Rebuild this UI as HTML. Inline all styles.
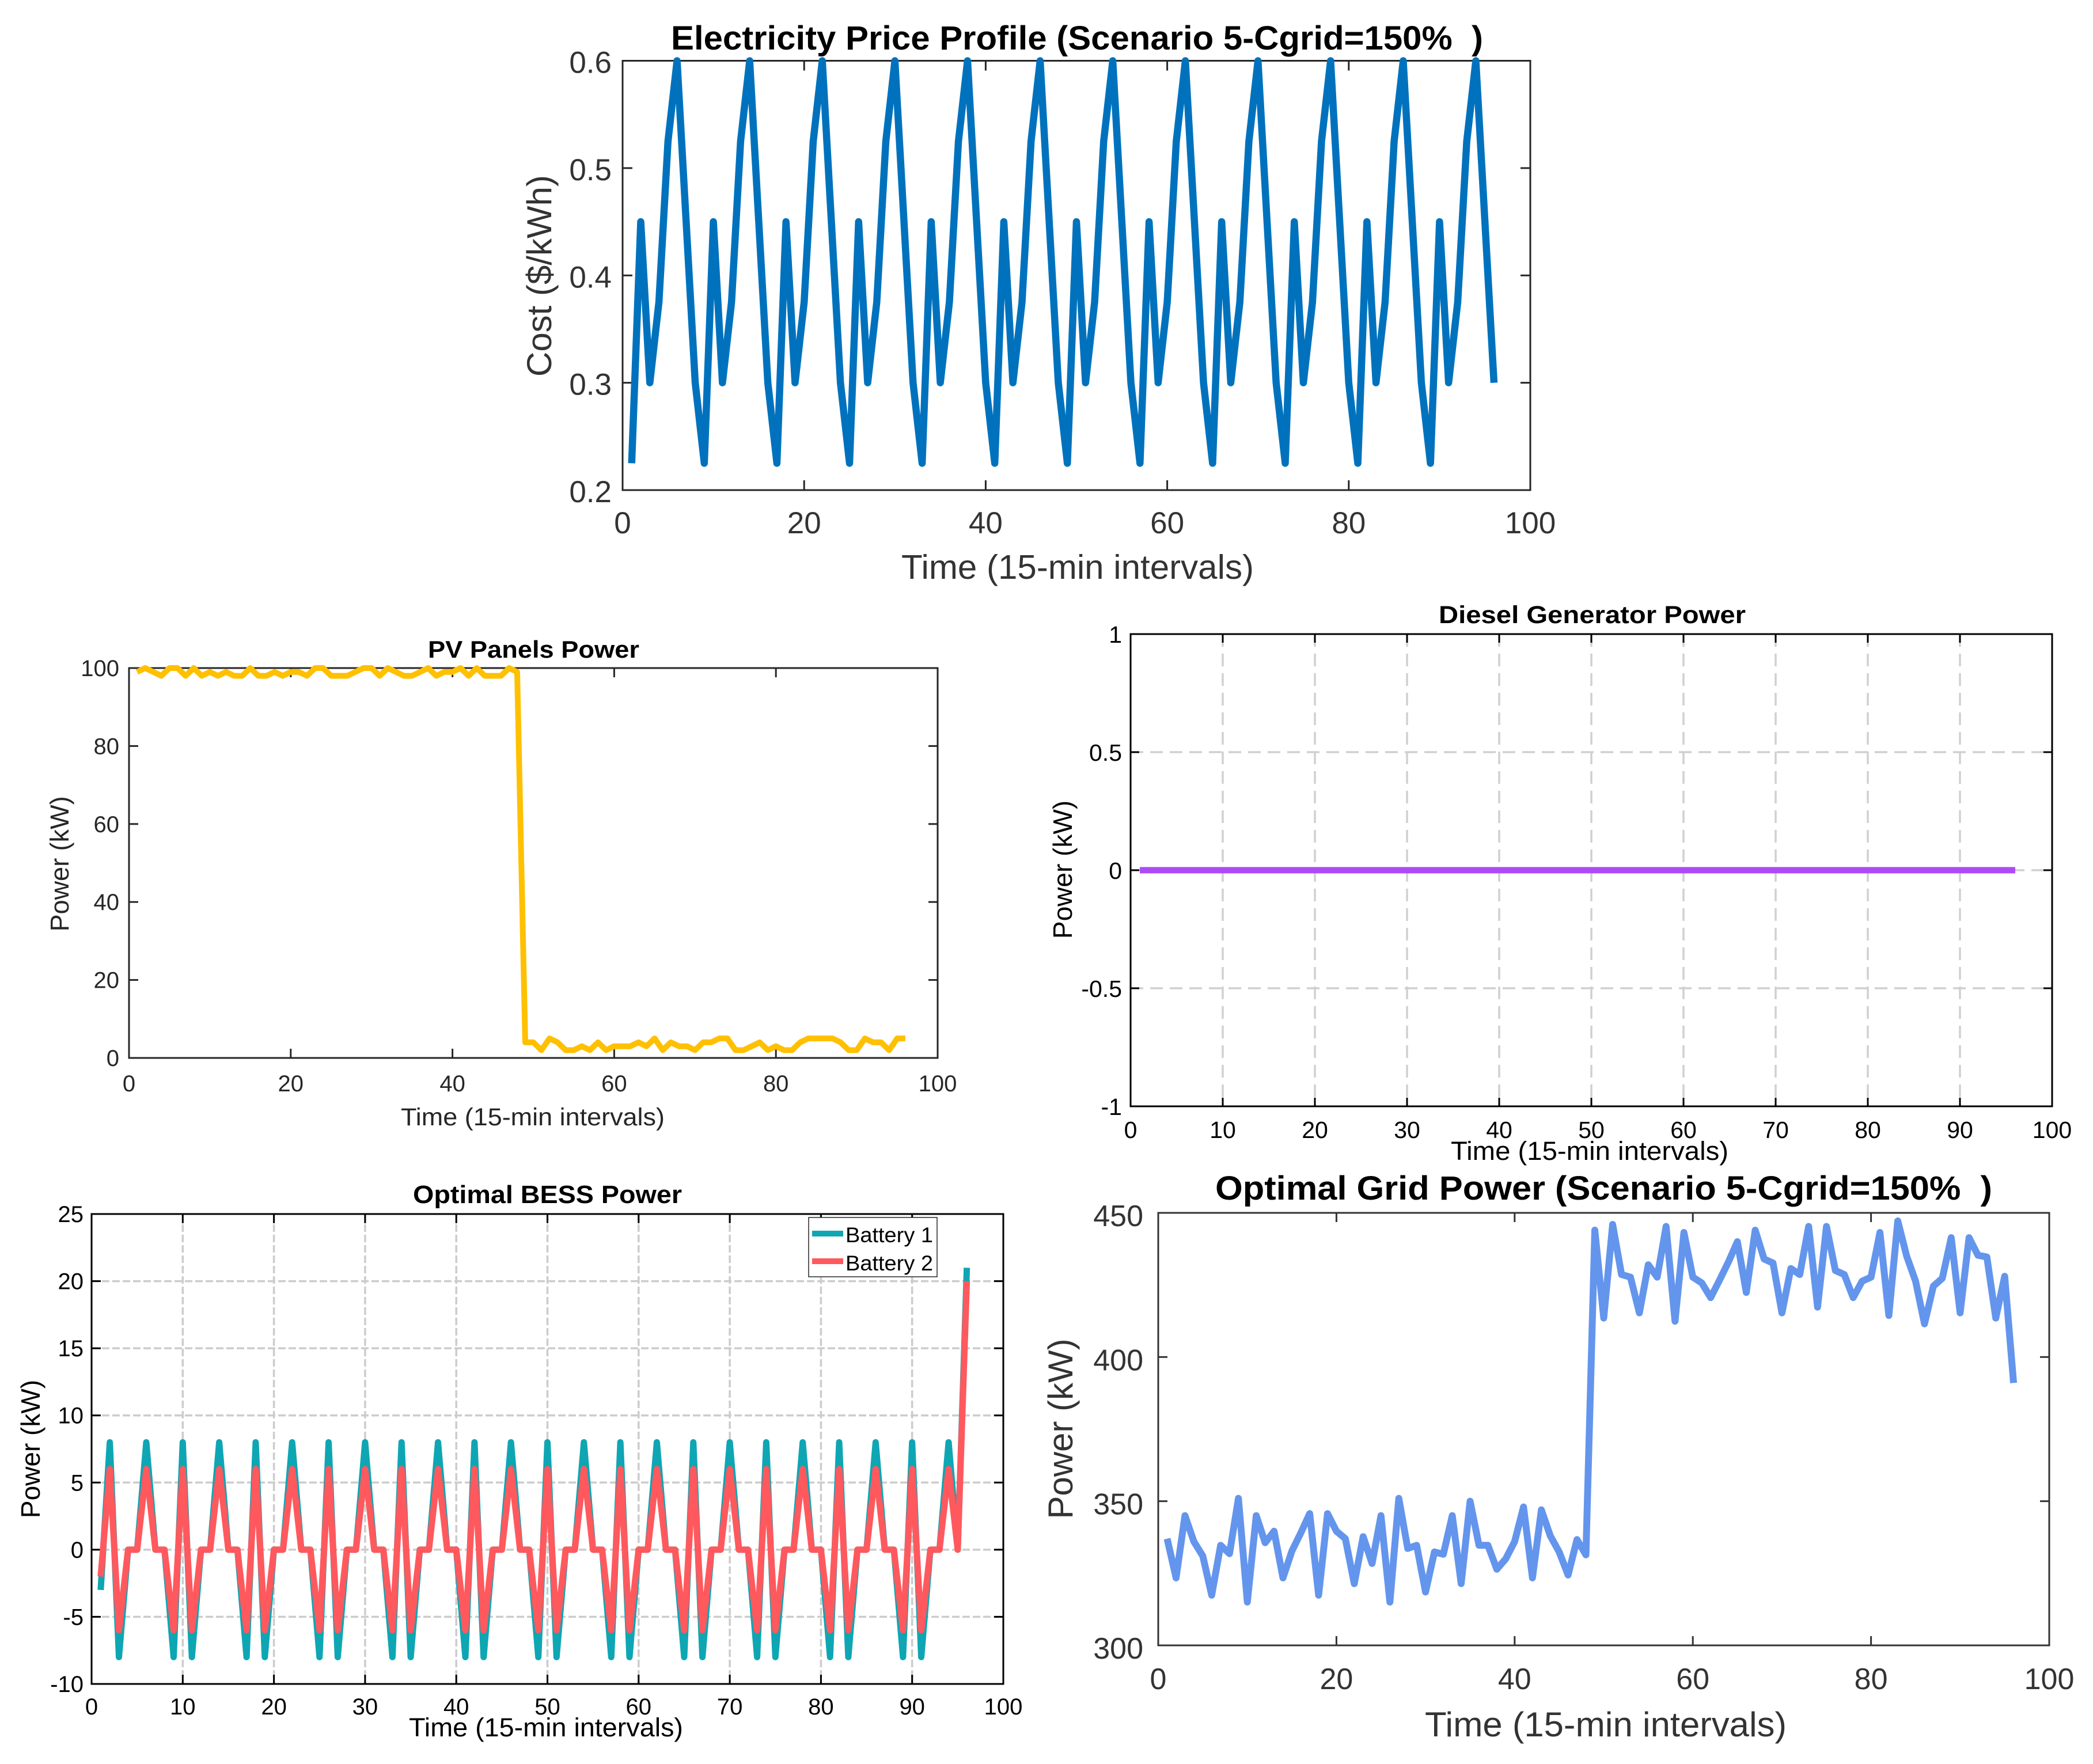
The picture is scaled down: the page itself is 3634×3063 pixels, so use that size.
<!DOCTYPE html>
<html lang="en">
<head>
<meta charset="utf-8">
<title>Scenario 5 power and price profiles</title>
<style>
html,body{margin:0;padding:0;background:#fff;}
svg{display:block;font-family:"Liberation Sans",Arial,sans-serif;}
</style>
</head>
<body>
<svg id="figure" xmlns="http://www.w3.org/2000/svg" width="3634" height="3063" viewBox="0 0 3634 3063">
  <rect x="0" y="0" width="3634" height="3063" fill="#ffffff"/>

  <g id="price-chart">
    <text x="1165" y="86" font-size="58" font-weight="bold" fill="#000" textLength="1410" lengthAdjust="spacingAndGlyphs" xml:space="preserve">Electricity Price Profile (Scenario 5-Cgrid=150%  )</text>
    <text x="1565" y="1005" font-size="59" fill="#333" textLength="612" lengthAdjust="spacingAndGlyphs">Time (15-min intervals)</text>
    <text transform="translate(957,479) rotate(-90)" text-anchor="middle" font-size="60" fill="#333">Cost ($/kWh)</text>
  </g>

  <g id="pv-chart">
    <text x="743" y="1142" font-size="42" font-weight="bold" fill="#000" textLength="367" lengthAdjust="spacingAndGlyphs">PV Panels Power</text>
    <text x="696" y="1954" font-size="43" fill="#262626" textLength="458" lengthAdjust="spacingAndGlyphs">Time (15-min intervals)</text>
    <text transform="translate(119,1500) rotate(-90)" text-anchor="middle" font-size="45" fill="#262626">Power (kW)</text>
  </g>

  <g id="diesel-chart">
    <text x="2498" y="1082" font-size="43" font-weight="bold" fill="#000" textLength="533" lengthAdjust="spacingAndGlyphs">Diesel Generator Power</text>
    <text x="2519" y="2014" font-size="45" fill="#000" textLength="482" lengthAdjust="spacingAndGlyphs">Time (15-min intervals)</text>
    <text transform="translate(1861,1510) rotate(-90)" text-anchor="middle" font-size="46" fill="#000">Power (kW)</text>
  </g>

  <g id="bess-chart">
    <text x="717" y="2089" font-size="44" font-weight="bold" fill="#000" textLength="467" lengthAdjust="spacingAndGlyphs">Optimal BESS Power</text>
    <text x="710" y="3015" font-size="45" fill="#000" textLength="476" lengthAdjust="spacingAndGlyphs">Time (15-min intervals)</text>
    <text transform="translate(69,2516) rotate(-90)" text-anchor="middle" font-size="46" fill="#000">Power (kW)</text>
  </g>

  <g id="grid-chart">
    <text x="2110" y="2083" font-size="58" font-weight="bold" fill="#000" textLength="1349" lengthAdjust="spacingAndGlyphs" xml:space="preserve">Optimal Grid Power (Scenario 5-Cgrid=150%  )</text>
    <text x="2474" y="3015" font-size="60" fill="#333" textLength="628" lengthAdjust="spacingAndGlyphs">Time (15-min intervals)</text>
    <text transform="translate(1862,2481) rotate(-90)" text-anchor="middle" font-size="60" fill="#333">Power (kW)</text>
  </g>

  <g id="bess-legend"></g>
</svg>

<script>
// ---------- data ----------
const timeIntervals = [1,2,3,4,5,6,7,8,9,10,11,12,13,14,15,16,17,18,19,20,21,22,23,24,25,26,27,28,29,30,31,32,33,34,35,36,37,38,39,40,41,42,43,44,45,46,47,48,49,50,51,52,53,54,55,56,57,58,59,60,61,62,63,64,65,66,67,68,69,70,71,72,73,74,75,76,77,78,79,80,81,82,83,84,85,86,87,88,89,90,91,92,93,94,95,96];

const priceValues = [0.225,0.45,0.3,0.375,0.525,0.6,0.45,0.3,0.225,0.45,0.3,0.375,0.525,0.6,0.45,0.3,0.225,0.45,0.3,0.375,0.525,0.6,0.45,0.3,0.225,0.45,0.3,0.375,0.525,0.6,0.45,0.3,0.225,0.45,0.3,0.375,0.525,0.6,0.45,0.3,0.225,0.45,0.3,0.375,0.525,0.6,0.45,0.3,0.225,0.45,0.3,0.375,0.525,0.6,0.45,0.3,0.225,0.45,0.3,0.375,0.525,0.6,0.45,0.3,0.225,0.45,0.3,0.375,0.525,0.6,0.45,0.3,0.225,0.45,0.3,0.375,0.525,0.6,0.45,0.3,0.225,0.45,0.3,0.375,0.525,0.6,0.45,0.3,0.225,0.45,0.3,0.375,0.525,0.6,0.45,0.3];

const pvValues = [99,100,99,98,100,100,98,100,98,99,98,99,98,98,100,98,98,99,98,99,99,98,100,100,98,98,98,99,100,100,98,100,99,98,98,99,100,98,99,99,100,98,100,98,98,98,100,99,4,4,2,5,4,2,2,3,2,4,2,3,3,3,4,3,5,2,4,3,3,2,4,4,5,5,2,2,3,4,2,3,2,2,4,5,5,5,5,4,2,2,5,4,4,2,5,5];

const dieselValues = [0,0,0,0,0,0,0,0,0,0,0,0,0,0,0,0,0,0,0,0,0,0,0,0,0,0,0,0,0,0,0,0,0,0,0,0,0,0,0,0,0,0,0,0,0,0,0,0,0,0,0,0,0,0,0,0,0,0,0,0,0,0,0,0,0,0,0,0,0,0,0,0,0,0,0,0,0,0,0,0,0,0,0,0,0,0,0,0,0,0,0,0,0,0,0,0];

const battery1Values = [-3,8,-8,0,0,8,0,0,-8,8,-8,0,0,8,0,0,-8,8,-8,0,0,8,0,0,-8,8,-8,0,0,8,0,0,-8,8,-8,0,0,8,0,0,-8,8,-8,0,0,8,0,0,-8,8,-8,0,0,8,0,0,-8,8,-8,0,0,8,0,0,-8,8,-8,0,0,8,0,0,-8,8,-8,0,0,8,0,0,-8,8,-8,0,0,8,0,0,-8,8,-8,0,0,8,0,21];

const battery2Values = [-2,6,-6,0,0,6,0,0,-6,6,-6,0,0,6,0,0,-6,6,-6,0,0,6,0,0,-6,6,-6,0,0,6,0,0,-6,6,-6,0,0,6,0,0,-6,6,-6,0,0,6,0,0,-6,6,-6,0,0,6,0,0,-6,6,-6,0,0,6,0,0,-6,6,-6,0,0,6,0,0,-6,6,-6,0,0,6,0,0,-6,6,-6,0,0,6,0,0,-6,6,-6,0,0,6,0,20];

const gridValues = [337,323.4,345,336,331,317.4,334.7,331.8,351,315,345,335.6,339.6,323.4,332.7,339,345.7,317.4,345.7,339.6,337,321.4,337.7,328.4,345,315,351,333.6,334.7,318.5,332.4,331.6,345,321.4,350,334.7,334.7,326.4,330,336,348,323.4,347,338,332.4,324.4,336.7,331.4,444,413.5,446,428.6,427.7,415.3,432,427.7,445.3,412.4,443.2,427.7,425.7,420.6,426.7,433,440,422.4,444,434,432.6,415.3,430.7,428.6,445.3,417.3,445.3,430,428.6,420.6,426.3,427.7,443.2,414.4,447.2,435,426.3,411.5,424.6,427.3,441.4,415.3,441.4,435.3,434.7,413.5,428,391];

const xTicksBy20 = [0,20,40,60,80,100];
const xTicksBy10 = [0,10,20,30,40,50,60,70,80,90,100];
const priceYTicks = [0.2,0.3,0.4,0.5,0.6];
const priceYLabels = ['0.2','0.3','0.4','0.5','0.6'];
const pvYTicks = [0,20,40,60,80,100];
const dieselYTicks = [-1,-0.5,0,0.5,1];
const bessYTicks = [-10,-5,0,5,10,15,20,25];
const gridYTicks = [300,350,400,450];

const legendLabels = ['Battery 1','Battery 2'];

// ---------- helpers ----------
const SVG_NS = 'http://www.w3.org/2000/svg';
function make(parent, tag, props, text) {
  const el = document.createElementNS(SVG_NS, tag);
  for (const k in props) el.setAttribute(k, props[k]);
  if (text !== undefined) el.textContent = text;
  parent.appendChild(el);
  return el;
}
function scaleLinear(d0, d1, r0, r1) {
  return function (v) { return r0 + (v - d0) / (d1 - d0) * (r1 - r0); };
}

function drawAxes(cfg) {
  const g = document.getElementById(cfg.id);
  const x = scaleLinear(cfg.xDomain[0], cfg.xDomain[1], cfg.left, cfg.right);
  const y = scaleLinear(cfg.yDomain[0], cfg.yDomain[1], cfg.bottom, cfg.top);

  if (cfg.grid) {
    cfg.xTicks.forEach(function (t) {
      if (t === cfg.xDomain[0] || t === cfg.xDomain[1]) return;
      const l = make(g, 'line', {x1:x(t), x2:x(t), y1:cfg.top, y2:cfg.bottom, stroke:cfg.gridColor, 'stroke-width':3.5, 'stroke-dasharray':cfg.gridDash});
      
      
    });
    cfg.yTicks.forEach(function (t) {
      if (t === cfg.yDomain[0] || t === cfg.yDomain[1]) return;
      const l = make(g, 'line', {x1:cfg.left, x2:cfg.right, y1:y(t), y2:y(t), stroke:cfg.gridColor, 'stroke-width':3.5, 'stroke-dasharray':cfg.gridDash});
      
      
    });
  }

  const frame = make(g, 'rect', {x:cfg.left, y:cfg.top, width:cfg.right-cfg.left, height:cfg.bottom-cfg.top, fill:'none', stroke:cfg.axisColor, 'stroke-width':3});
  
  

  cfg.xTicks.forEach(function (t) {
    const a = make(g, 'line', {x1:x(t), x2:x(t), y1:cfg.bottom, y2:cfg.bottom-cfg.tick, stroke:cfg.axisColor, 'stroke-width':3});
    
    
    const b = make(g, 'line', {x1:x(t), x2:x(t), y1:cfg.top, y2:cfg.top+cfg.tick, stroke:cfg.axisColor, 'stroke-width':3});
    
    
    const lab = make(g, 'text', {x:x(t), y:cfg.xLabelY, 'text-anchor':'middle', 'font-size':cfg.font, fill:cfg.textColor}, String(t));
    
    
  });
  cfg.yTicks.forEach(function (t, i) {
    const a = make(g, 'line', {x1:cfg.left, x2:cfg.left+cfg.tick, y1:y(t), y2:y(t), stroke:cfg.axisColor, 'stroke-width':3});
    
    
    const b = make(g, 'line', {x1:cfg.right, x2:cfg.right-cfg.tick, y1:y(t), y2:y(t), stroke:cfg.axisColor, 'stroke-width':3});
    
    
    const txt = cfg.yLabels ? cfg.yLabels[i] : String(t);
    const lab = make(g, 'text', {x:cfg.yLabelX, y:y(t)+cfg.yLabelDy, 'text-anchor':'end', 'font-size':cfg.font, fill:cfg.textColor}, txt);
    
    
  });

  return {g:g, x:x, y:y};
}

function drawSeries(ax, xs, ys, color, width, name) {
  const d = xs.map(function (v, i) {
    return (i ? 'L' : 'M') + ax.x(v).toFixed(2) + ' ' + ax.y(ys[i]).toFixed(2);
  }).join(' ');
  const p = make(ax.g, 'path', {d:d, fill:'none', stroke:color, 'stroke-width':width, 'stroke-linejoin':'round', 'stroke-linecap':'butt'});
  
  
  return p;
}

// ---------- charts ----------
const priceAx = drawAxes({id:'price-chart', prefix:'price', left:1081, right:2657, top:105.5, bottom:851,
  xDomain:[0,100], yDomain:[0.2,0.6], xTicks:xTicksBy20, yTicks:priceYTicks, yLabels:priceYLabels,
  font:53, yLabelDy:21, xLabelY:926, yLabelX:1062, tick:17, axisColor:'#262626', textColor:'#333', grid:false});
drawSeries(priceAx, timeIntervals, priceValues, '#0072BD', 12.5, 'price-line');

const pvAx = drawAxes({id:'pv-chart', prefix:'pv', left:224, right:1628, top:1160, bottom:1837,
  xDomain:[0,100], yDomain:[0,100], xTicks:xTicksBy20, yTicks:pvYTicks,
  font:40, yLabelDy:14, xLabelY:1895, yLabelX:207, tick:16, axisColor:'#262626', textColor:'#262626', grid:false});
drawSeries(pvAx, timeIntervals, pvValues, '#FFC000', 10, 'pv-power-line');

const dieselAx = drawAxes({id:'diesel-chart', prefix:'diesel', left:1963, right:3563, top:1101, bottom:1921,
  xDomain:[0,100], yDomain:[-1,1], xTicks:xTicksBy10, yTicks:dieselYTicks,
  font:41, yLabelDy:15, xLabelY:1976, yLabelX:1948, tick:15, axisColor:'#000', textColor:'#000', grid:true,
  gridColor:'#d0d0d0', gridDash:'22 12'});
drawSeries(dieselAx, timeIntervals, dieselValues, '#AC4CF5', 11, 'diesel-power-line');

const bessAx = drawAxes({id:'bess-chart', prefix:'bess', left:159, right:1742, top:2108, bottom:2924,
  xDomain:[0,100], yDomain:[-10,25], xTicks:xTicksBy10, yTicks:bessYTicks,
  font:40, yLabelDy:14, xLabelY:2977, yLabelX:145, tick:16, axisColor:'#000', textColor:'#000', grid:true,
  gridColor:'#cccccc', gridDash:'13 5'});
drawSeries(bessAx, timeIntervals, battery1Values, '#0FA6B4', 11, 'battery-1-line');
drawSeries(bessAx, timeIntervals, battery2Values, '#FF595E', 11, 'battery-2-line');

const gridAx = drawAxes({id:'grid-chart', prefix:'grid', left:2011, right:3558, top:2106, bottom:2857,
  xDomain:[0,100], yDomain:[300,450], xTicks:xTicksBy20, yTicks:gridYTicks,
  font:52, yLabelDy:23, xLabelY:2933, yLabelX:1985, tick:16, axisColor:'#333', textColor:'#333', grid:false});
drawSeries(gridAx, timeIntervals, gridValues, '#6495ED', 12, 'grid-power-line');

// ---------- legend ----------
const legendGroup = document.getElementById('bess-legend');
const legendBox = make(legendGroup, 'rect', {x:1404, y:2114, width:223, height:103, fill:'#fff', stroke:'#262626', 'stroke-width':1.5});


const legendColors = ['#0FA6B4', '#FF595E'];
const legendLineY = [2142, 2190];
const legendTextY = [2157, 2206];
legendLabels.forEach(function (label, i) {
  const sw = make(legendGroup, 'line', {x1:1410, x2:1464, y1:legendLineY[i], y2:legendLineY[i], stroke:legendColors[i], 'stroke-width':10});
  
  
  const tx = make(legendGroup, 'text', {x:1468, y:legendTextY[i], 'font-size':37, fill:'#000', textLength:152, lengthAdjust:'spacingAndGlyphs'}, label);
  
  
});
</script>
</body>
</html>
